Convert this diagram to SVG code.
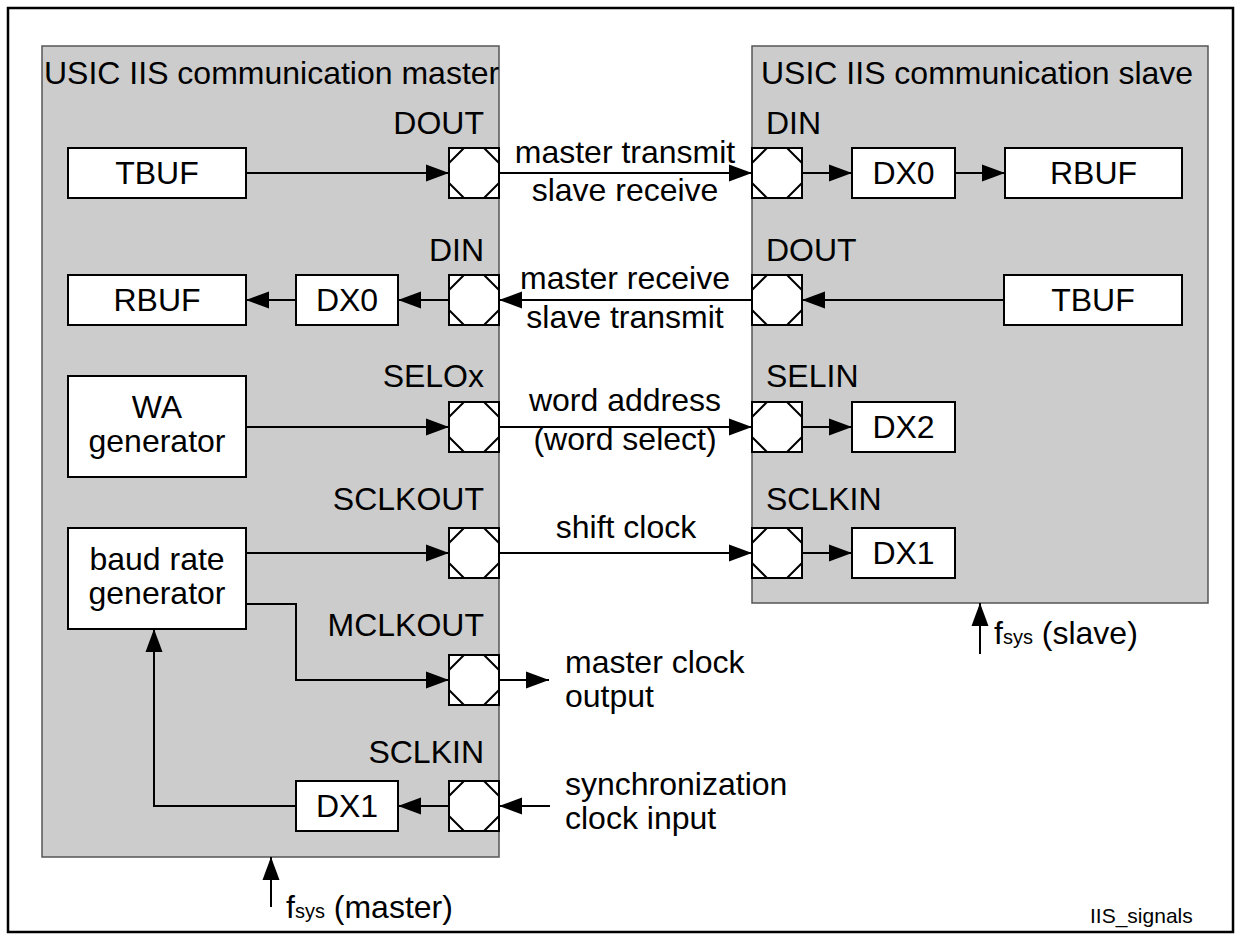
<svg xmlns="http://www.w3.org/2000/svg" width="1243" height="940" viewBox="0 0 1243 940">
<style>
text{font-family:"Liberation Sans",Arial,sans-serif;font-size:32px;fill:#000}
.c{text-anchor:middle}
.e{text-anchor:end}
.blk{fill:#fff;stroke:#000;stroke-width:2}
.grp{fill:#cccccc;stroke:#555;stroke-width:1.5}
.pin{fill:#fff;stroke:#000;stroke-width:2}
.dg{fill:none;stroke:#000;stroke-width:2}
.ln{fill:none;stroke:#000;stroke-width:2}
.ar{marker-end:url(#ah)}
.sub{font-size:20px}
.sm{font-size:21px}
</style>
<defs>
<marker id="ah" markerUnits="userSpaceOnUse" markerWidth="24" markerHeight="20" refX="23" refY="10" orient="auto">
<path d="M0,1.5 L23,10 L0,18.5 z" fill="#000"/>
</marker>
<g id="pinshape">
<rect class="pin" x="0" y="0" width="50" height="50"/>
<path class="dg" d="M0,15 L15,0 M35,0 L50,15 M50,35 L35,50 M15,50 L0,35"/>
</g>
</defs>
<rect x="8" y="8" width="1225" height="924" fill="#fff" stroke="#000" stroke-width="2.5"/>

<g id="master">
<rect class="grp" x="42" y="46" width="457" height="811"/>
<text x="44" y="84">USIC IIS communication master</text>
</g>
<g id="slave">
<rect class="grp" x="752" y="46" width="456" height="557"/>
<text x="761" y="84">USIC IIS communication slave</text>
</g>

<g id="m_tbuf"><rect class="blk" x="68" y="148" width="178" height="50"/><text class="c" x="157" y="184">TBUF</text></g>
<g id="m_rbuf"><rect class="blk" x="68" y="275" width="178" height="50"/><text class="c" x="157" y="311">RBUF</text></g>
<g id="m_dx0"><rect class="blk" x="296" y="275" width="102" height="50"/><text class="c" x="347" y="311">DX0</text></g>
<g id="m_wa"><rect class="blk" x="68" y="376" width="178" height="101"/><text class="c" x="157" y="418">WA</text><text class="c" x="157" y="452">generator</text></g>
<g id="m_baud"><rect class="blk" x="68" y="528" width="178" height="101"/><text class="c" x="157" y="570">baud rate</text><text class="c" x="157" y="604">generator</text></g>
<g id="m_dx1"><rect class="blk" x="296" y="781" width="102" height="50"/><text class="c" x="347" y="817">DX1</text></g>

<g id="m_pin_dout"><use href="#pinshape" x="449" y="148"/><text class="e" x="484" y="134">DOUT</text></g>
<g id="m_pin_din"><use href="#pinshape" x="449" y="275"/><text class="e" x="484" y="261">DIN</text></g>
<g id="m_pin_selox"><use href="#pinshape" x="449" y="402"/><text class="e" x="484" y="387">SELOx</text></g>
<g id="m_pin_sclkout"><use href="#pinshape" x="449" y="528"/><text class="e" x="484" y="510">SCLKOUT</text></g>
<g id="m_pin_mclkout"><use href="#pinshape" x="449" y="655"/><text class="e" x="484" y="636">MCLKOUT</text></g>
<g id="m_pin_sclkin"><use href="#pinshape" x="449" y="781"/><text class="e" x="484" y="763">SCLKIN</text></g>

<g id="s_pin_din"><use href="#pinshape" x="752" y="148"/><text x="766" y="134">DIN</text></g>
<g id="s_pin_dout"><use href="#pinshape" x="752" y="275"/><text x="766" y="261">DOUT</text></g>
<g id="s_pin_selin"><use href="#pinshape" x="752" y="402"/><text x="766" y="387">SELIN</text></g>
<g id="s_pin_sclkin"><use href="#pinshape" x="752" y="528"/><text x="766" y="510">SCLKIN</text></g>

<g id="s_dx0"><rect class="blk" x="852" y="148" width="103" height="50"/><text class="c" x="903.5" y="184">DX0</text></g>
<g id="s_rbuf"><rect class="blk" x="1005" y="148" width="177" height="50"/><text class="c" x="1093.5" y="184">RBUF</text></g>
<g id="s_tbuf"><rect class="blk" x="1004" y="275" width="178" height="50"/><text class="c" x="1093" y="311">TBUF</text></g>
<g id="s_dx2"><rect class="blk" x="852" y="402" width="103" height="50"/><text class="c" x="903.5" y="438">DX2</text></g>
<g id="s_dx1"><rect class="blk" x="852" y="528" width="103" height="50"/><text class="c" x="903.5" y="564">DX1</text></g>

<g id="connectors">
<path class="ln ar" d="M246,173 H449"/>
<path class="ln ar" d="M499,173 H752"/>
<path class="ln ar" d="M802,173 H852"/>
<path class="ln ar" d="M955,173 H1005"/>
<path class="ln ar" d="M1004,300 H802"/>
<path class="ln ar" d="M752,300 H499"/>
<path class="ln ar" d="M449,300 H398"/>
<path class="ln ar" d="M296,300 H246"/>
<path class="ln ar" d="M246,427 H449"/>
<path class="ln ar" d="M499,427 H752"/>
<path class="ln ar" d="M802,427 H852"/>
<path class="ln ar" d="M246,553 H449"/>
<path class="ln ar" d="M499,553 H752"/>
<path class="ln ar" d="M802,553 H852"/>
<path class="ln ar" d="M246,604 H296 V680 H449"/>
<path class="ln ar" d="M499,680 H549"/>
<path class="ln ar" d="M550,806 H499"/>
<path class="ln ar" d="M449,806 H398"/>
<path class="ln ar" d="M296,806 H154 V629"/>
<path class="ln ar" d="M271,907 V857"/>
<path class="ln ar" d="M980,654 V603"/>
</g>

<g id="labels">
<text class="c" x="625" y="163">master transmit</text>
<text class="c" x="625" y="201">slave receive</text>
<text class="c" x="625" y="289">master receive</text>
<text class="c" x="625" y="328">slave transmit</text>
<text class="c" x="625" y="411">word address</text>
<text class="c" x="625" y="450">(word select)</text>
<text class="c" x="626" y="538">shift clock</text>
<text x="565" y="673">master clock</text>
<text x="565" y="707">output</text>
<text x="565" y="795">synchronization</text>
<text x="565" y="829">clock input</text>
<text x="286" y="918">f<tspan class="sub">sys</tspan>  (master)</text>
<text x="994" y="644">f<tspan class="sub">sys</tspan>  (slave)</text>
<text class="sm" x="1090" y="923">IIS_signals</text>
</g>
</svg>
